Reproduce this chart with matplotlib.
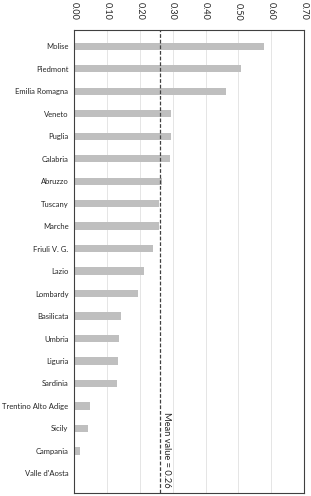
import matplotlib
matplotlib.use("Agg")
import matplotlib.pyplot as plt

regions = ["Molise", "Piedmont", "Emilia Romagna", "Veneto", "Puglia", "Calabria",
           "Abruzzo", "Tuscany", "Marche", "Friuli V. G.", "Lazio", "Lombardy",
           "Basilicata", "Umbria", "Liguria", "Sardinia", "Trentino Alto Adige",
           "Sicily", "Campania", "Valle d'Aosta"]
values = [0.577, 0.507, 0.463, 0.296, 0.294, 0.293, 0.266, 0.258, 0.259, 0.241,
          0.211, 0.194, 0.143, 0.136, 0.133, 0.131, 0.047, 0.042, 0.018, 0.0]
mean_value = 0.26
xticks = [0.0, 0.1, 0.2, 0.3, 0.4, 0.5, 0.6, 0.7]
xticklabels = ["0.00", "0.10", "0.20", "0.30", "0.40", "0.50", "0.60", "0.70"]

plt.rcParams['font.family'] = ['Lato', 'DejaVu Sans']

fig = plt.figure(figsize=(3.11, 4.96), dpi=100)
ax = fig.add_axes([74.3/311, 1 - 493/496, (304 - 74.3)/311, (493 - 30)/496])

ypos = list(range(len(regions)))
ax.barh(ypos, values, height=0.32, color="#BFBFBF", zorder=2)
ax.set_ylim(len(regions) - 1 + 0.87, -0.72)
ax.set_xlim(0, 0.70)
ax.set_yticks(ypos)
ax.set_yticklabels(regions, fontsize=5.5, color="#262626")
ax.set_xticks(xticks)
ax.set_xticklabels(xticklabels, fontsize=6.5, rotation=-90, color="#262626")
ax.xaxis.tick_top()
ax.tick_params(axis="y", length=0, pad=4.2)
ax.tick_params(axis="x", length=0, pad=7)
ax.grid(axis="x", color="#E0E0E0", linewidth=0.6, zorder=0)
ax.set_axisbelow(True)
for s in ax.spines.values():
    s.set_color("#404040")
    s.set_linewidth(0.8)

ax.axvline(mean_value, color="#404040", linestyle=(0, (3, 1.5)), linewidth=0.9, zorder=3)
ax.text(mean_value + 0.006, len(regions) - 1 + 0.62, "Mean value = 0.26", rotation=-90,
        fontsize=6.7, color="#262626", ha="left", va="bottom")

fig.savefig("out.png", dpi=100)
